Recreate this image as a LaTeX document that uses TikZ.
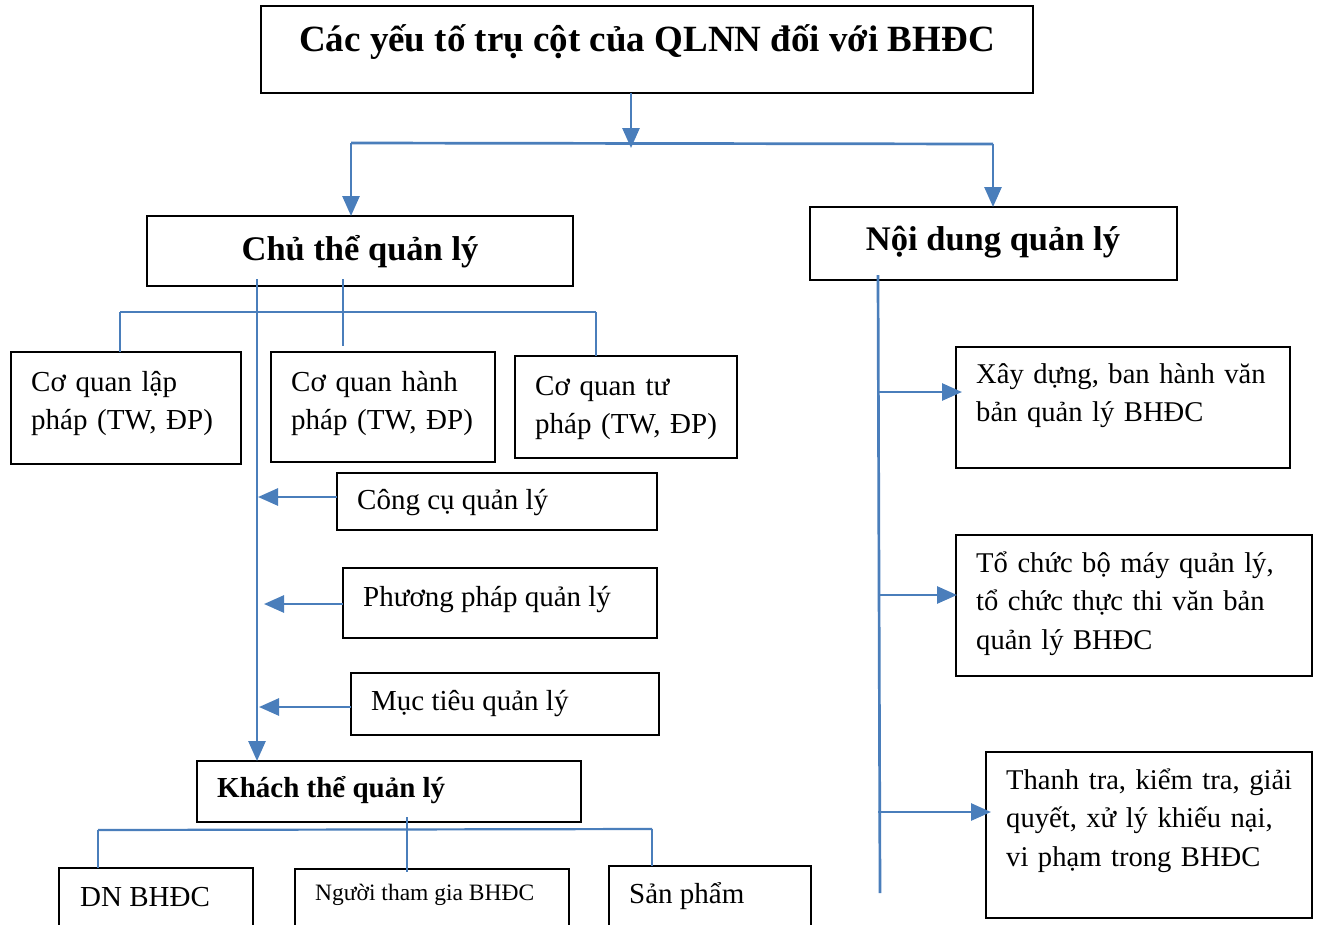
\documentclass[tikz,border=0pt]{standalone}
\usepackage{fontspec}
\setmainfont{Liberation Serif}
\usetikzlibrary{arrows.meta,calc}
\definecolor{linkblue}{HTML}{4A7EBB}
\tikzset{
  box/.style={draw=black, line width=1.3pt, anchor=north west, inner sep=0pt, outer sep=0pt},
  txt/.style={inner sep=0pt, anchor=base west, font=\fontsize{29}{38.5}\selectfont},
  multi/.style={txt, text width=400pt, align=left},
  head/.style={inner sep=0pt, anchor=base, font=\fontsize{34.5}{40}\selectfont\bfseries},
  conn/.style={draw=linkblue, line width=2.7pt},
  thinconn/.style={draw=linkblue, line width=2.2pt},
  arr/.style={conn, -{Triangle[length=20pt,width=17pt]}},
}
\begin{document}
\begin{tikzpicture}[x=1pt, y=-1pt]
\useasboundingbox (0,0) rectangle (1320,924);
\clip (0,0) rectangle (1320,924);
\fill[white] (0,0) rectangle (1320,924);

% ---- boxes ----
\node[box, minimum width=772pt, minimum height=87pt]  (title)  at (261,6)   {};
\node[box, minimum width=426pt, minimum height=70pt]  (chu)    at (147,216) {};
\node[box, minimum width=367pt, minimum height=73pt]  (nd)     at (810,207) {};
\node[box, minimum width=230pt, minimum height=112pt] (lap)    at (11,352)  {};
\node[box, minimum width=224pt, minimum height=110pt] (hanh)   at (271,352) {};
\node[box, minimum width=222pt, minimum height=102pt] (tu)     at (515,356) {};
\node[box, minimum width=320pt, minimum height=57pt]  (congcu) at (337,473) {};
\node[box, minimum width=314pt, minimum height=70pt]  (pp)     at (343,568) {};
\node[box, minimum width=308pt, minimum height=62pt]  (mt)     at (351,673) {};
\node[box, minimum width=384pt, minimum height=61pt]  (kt)     at (197,761) {};
\node[box, minimum width=194pt, minimum height=80pt]  (dn)     at (59,868)  {};
\node[box, minimum width=274pt, minimum height=80pt]  (ntg)    at (295,869) {};
\node[box, minimum width=202pt, minimum height=80pt]  (sp)     at (609,866) {};
\node[box, minimum width=334pt, minimum height=121pt] (xd)     at (956,347) {};
\node[box, minimum width=356pt, minimum height=141pt] (tc)     at (956,535) {};
\node[box, minimum width=326pt, minimum height=166pt] (tt)     at (986,752) {};

% ---- texts ----
\node[head, font=\fontsize{37}{44}\selectfont\bfseries] (t-title) at (647,51)
  {Các yếu tố trụ cột của QLNN đối với BHĐC};
\node[head] (t-chu) at (360,260) {Chủ thể quản lý};
\node[head] (t-nd)  at (993,250) {Nội dung quản lý};
\node[multi] (t-lap)  at (31,391)  {Cơ quan lập\\pháp (TW, ĐP)};
\node[multi] (t-hanh) at (291,391) {Cơ quan hành\\pháp (TW, ĐP)};
\node[multi] (t-tu)   at (535,395) {Cơ quan tư\\pháp (TW, ĐP)};
\node[txt] (t-congcu) at (357,509) {Công cụ quản lý};
\node[txt] (t-pp)     at (363,606) {Phương pháp quản lý};
\node[txt] (t-mt)     at (371,710) {Mục tiêu quản lý};
\node[txt, font=\fontsize{29}{38.5}\selectfont\bfseries] (t-kt) at (217,797) {Khách thể quản lý};
\node[txt] (t-dn)  at (80,906)  {DN BHĐC};
\node[txt, font=\fontsize{23.5}{28}\selectfont] (t-ntg) at (315,900) {Người tham gia BHĐC};
\node[txt] (t-sp)  at (629,903) {Sản phẩm};
\node[multi, font=\fontsize{28.6}{38.5}\selectfont] (t-xd) at (976,383) {Xây dựng, ban hành văn\\bản quản lý BHĐC};
\node[multi, font=\fontsize{28.6}{38.5}\selectfont] (t-tc) at (976,572) {Tổ chức bộ máy quản lý,\\tổ chức thực thi văn bản\\quản lý BHĐC};
\node[multi, font=\fontsize{28.6}{38.5}\selectfont] (t-tt) at (1006,789) {Thanh tra, kiểm tra, giải\\quyết, xử lý khiếu nại,\\vi phạm trong BHĐC};

% ---- top split ----
\coordinate (tsplit) at (631,148);
\draw[arr] (tsplit |- title.south) -- (tsplit);
\coordinate (hL) at (351,143);
\coordinate (hR) at (993,144);
\draw[conn] (hL) -- (hR);
\draw[arr] (hL) -- (hL |- chu.north);
\draw[arr] (hR) -- (hR |- nd.north);

% ---- management subject branch ----
\coordinate (trunk) at (257,279);
\draw[arr] (trunk) -- (trunk |- kt.north);
\coordinate (bL) at (120,312);
\coordinate (bR) at (596,312);
\coordinate (bM) at (343,279);
\coordinate (bMend) at (343,346);
\draw[conn] (bL) -- (bR);
\draw[conn] (bL) -- (bL |- lap.north);
\draw[conn] (bR) -- (bR |- tu.north);
\draw[conn] (bM) -- (bMend);

\coordinate (ccIn) at ($(congcu.north west)+(0,24)$);
\coordinate (ppIn) at ($(pp.north west)+(0,36)$);
\coordinate (mtIn) at ($(mt.north west)+(0,34)$);
\draw[arr] (ccIn) -- ($(ccIn -| trunk)+(1,0)$);
\draw[arr] (ppIn) -- ($(ppIn -| trunk)+(7,0)$);
\draw[arr] (mtIn) -- ($(mtIn -| trunk)+(2,0)$);

% ---- management object branch ----
\coordinate (kM) at (407,817);
\coordinate (kMend) at (407,872);
\coordinate (kL) at (98,830);
\coordinate (kR) at (652,829);
\draw[thinconn] (kM) -- (kMend);
\draw[thinconn] (kL) -- (kR);
\draw[thinconn] (kL) -- (kL |- dn.north);
\draw[thinconn] (kR) -- (kR |- sp.north);

% ---- management content branch ----
\coordinate (rTop) at (878,275);
\coordinate (rBot) at (880,893);
\draw[conn] (rTop) -- (rBot);
\coordinate (xdIn) at ($(xd.north west)+(6,45)$);
\coordinate (tcIn) at ($(tc.north west)+(1,60)$);
\coordinate (ttIn) at ($(tt.north west)+(5,60)$);
\draw[arr] (xdIn -| rTop) -- (xdIn);
\draw[arr] (tcIn -| rTop) -- (tcIn);
\draw[arr] (ttIn -| rTop) -- (ttIn);
\end{tikzpicture}
\end{document}
